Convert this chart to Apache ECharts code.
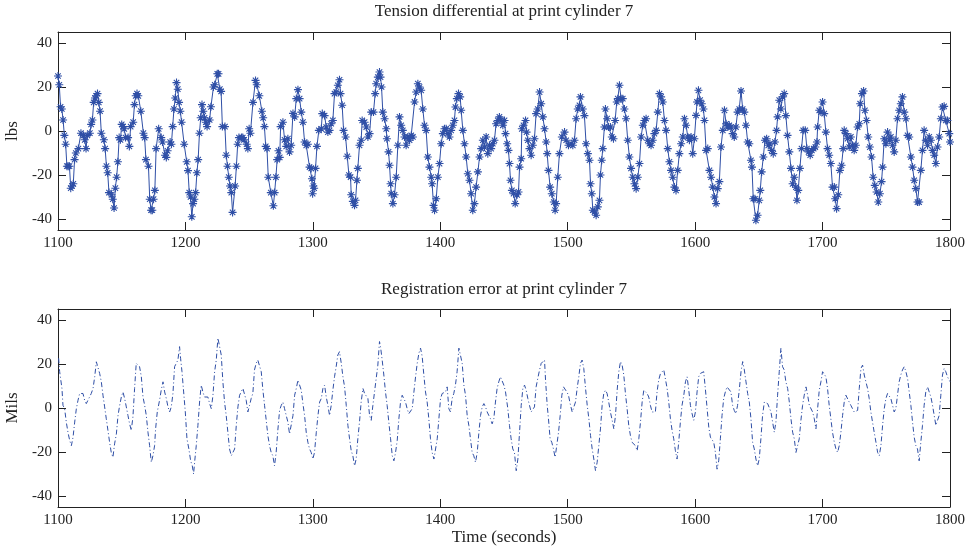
<!DOCTYPE html>
<html>
<head>
<meta charset="utf-8">
<script src="https://cdn.jsdelivr.net/npm/echarts@6/dist/echarts.min.js"></script>
<style>
html,body{margin:0;padding:0;background:#fff;}
#chart{width:972px;height:550px;}
</style>
</head>
<body>
<div id="chart"></div>
<script>
// ---- data ----
const xTicks = [1100, 1200, 1300, 1400, 1500, 1600, 1700, 1800];
const yTicks = [-40, -20, 0, 20, 40];

const tensionTime = [
1100,1101,1102,1103,1104,1105,1106,1107,1108,1109,
1110,1111,1112,1113,1114,1116,1118,1120,1121,1122,
1123,1125,1126,1127,1128,1129,1130,1131,1132,1133,
1134,1136,1137,1138,1139,1140,1142,1143,1144,1145,
1146,1147,1148,1149,1150,1151,1152,1153,1155,1156,
1157,1159,1160,1161,1162,1163,1165,1167,1168,1169,
1171,1172,1173,1174,1175,1176,1177,1179,1181,1182,
1184,1185,1186,1188,1189,1190,1191,1192,1193,1194,
1195,1196,1197,1199,1201,1202,1203,1204,1205,1206,
1207,1208,1209,1210,1211,1212,1213,1214,1215,1216,
1217,1219,1220,1222,1223,1225,1226,1227,1228,1229,
1231,1232,1233,1234,1235,1236,1237,1239,1240,1241,
1242,1244,1245,1246,1248,1249,1250,1251,1253,1255,
1256,1258,1260,1261,1262,1263,1264,1265,1267,1269,
1270,1271,1272,1273,
1274.0,1274.7,1276.5,1277.8,1279.1,1280.4,1281.7,1283.0,1284.4,1285.7,
1287.0,1288.3,1289.6,1290.9,1292.2,1293.5,1294.8,1296.1,1297.4,1298.7,
1299.3,1299.8,1300.4,1301.0,1302.1,1303.2,1304.7,1306.6,1307.4,1309.2,
1310.5,1311.8,1313.1,1314.4,1315.7,1317.0,1318.3,1319.6,1320.9,1321.7,
1323.0,1324.1,1325.7,1327.0,1328.3,1329.6,1330.1,1331.4,1332.7,1333.5,
1334.6,1335.3,1336.6,1337.9,1338.7,1340.6,1341.9,1343.2,1344.5,1345.8,
1347.6,1348.9,1349.7,1351.0,1352.3,1353.1,1353.9,1354.9,1356.3,1357.6,
1358.1,1359.4,1360.2,1361.0,1361.5,1362.8,1364.1,1365.4,1366.7,1368.0,
1369.3,1370.6,1371.9,1373.2,1374.5,1375.9,1377.2,1378.5,1379.8,1381.1,
1382.4,1383.7,1385.0,1386.3,1387.6,1388.9,1390.2,1391.5,1392.9,1393.6,
1394.7,1395.5,1396.8,1398.1,1399.4,1400.7,1402.0,1403.3,1404.6,1405.9,
1407.2,1408.5,1409.8,1411.1,1411.9,1413.0,1414.3,1415.6,1416.4,1417.7,
1419.0,1420.3,1421.6,1422.9,1424.2,1425.5,1426.8,1428.1,1429.5,1430.8,
1432.1,1433.4,1434.7,1436.0,1437.3,1438.6,1439.9,1441.2,1442.5,1443.8,
1445.1,1446.4,1447.8,1449.1,
1450.4,1451.2,1452.5,1453.5,1454.3,1455.1,1456.2,1457.5,1458.8,1460.3,
1461.4,1462.2,1463.5,1464.0,1465.3,1466.9,1467.7,1468.7,1470.0,1471.3,
1472.6,1473.9,1475.2,1476.5,1477.9,1479.2,1480.5,1481.8,1483.1,1483.9,
1484.9,1486.2,1487.5,1489.1,1490.1,1490.9,1492.2,1493.5,1495.4,1497.5,
1498.8,1500.6,1502.7,1504.0,1505.3,1506.6,1507.9,1509.2,1510.0,1511.8,
1513.1,1514.4,1515.8,1517.1,1517.9,1518.9,1519.7,1521.0,1522.3,1523.6,
1524.9,1525.7,1526.7,1527.5,1528.8,1529.6,1530.9,1532.0,1533.5,1534.6,
1535.9,1537.2,1538.5,1539.3,1540.6,1541.9,1543.2,1544.5,1545.8,1547.1,
1548.4,1549.7,1551.0,1552.4,1553.7,1555.0,1556.3,1557.6,1558.9,1560.2,
1561.5,1562.8,1564.1,1565.4,1566.7,1568.0,1569.4,1570.7,1572.0,1573.3,
1574.6,1575.9,1577.2,1578.5,1579.8,1581.1,1582.4,1583.7,1585.0,1586.3,
1587.6,1589.0,1590.3,1591.6,1592.9,1594.2,1595.5,1596.8,1598.1,1599.4,
1600.7,1601.5,1602.6,1603.9,1605.2,1606.5,1607.3,1608.6,1609.9,1611.2,
1612.5,1613.8,1615.1,1616.4,1617.7,1619.0,1620.3,1621.7,1623.0,1624.3,
1625.6,
1626.8,1628.1,1629.4,1630.7,1632.0,1633.3,1634.6,1636.0,1637.3,1638.6,
1639.9,1641.2,1642.5,1643.8,1644.6,1645.6,1646.9,1647.7,1649.0,1650.3,
1651.1,1652.2,1653.5,1654.8,1656.1,1657.4,1658.7,1660.0,1661.3,1662.6,
1663.9,1664.7,1666.0,1667.3,1668.6,1669.9,1671.2,1672.5,1673.9,1675.2,
1676.5,1677.8,1679.1,1679.9,1680.9,1682.2,1683.5,1684.8,1686.4,1687.7,
1689.0,1690.3,1691.6,1693.0,1694.3,1695.6,1696.1,1697.4,1698.7,1700.0,
1701.3,1702.6,1703.9,1705.2,1706.5,1707.8,1709.2,1709.9,1711.0,1712.3,
1713.6,1714.9,1716.2,1717.0,1718.3,1719.6,1720.9,1722.2,1723.5,1724.8,
1726.1,1727.5,1728.8,1729.5,1730.9,1732.2,1733.2,1734.5,1735.8,1737.1,
1738.4,1739.7,1741.0,1742.4,1743.7,1745.0,1746.3,1747.1,1748.4,1749.7,
1751.0,1752.3,1753.6,1754.9,1756.2,1757.5,1758.8,1760.1,1761.4,1762.7,
1764.1,1765.4,1766.7,1768.0,1769.3,1770.6,1771.9,1773.2,1774.5,1775.8,
1777.1,1778.4,1779.7,1781.0,1782.4,1783.7,1785.0,1786.3,1787.6,1788.9,
1790.2,1791.5,1792.8,1794.1,1795.4,1796.7,1798.0,1799.4,1800.0
];
const tensionLbs = [
25,21,11,10,5,-2,-6,-16,-16,-16,
-26,-25,-24,-13,-10,-8,-1,-2,-4,-8,
-2,-1,3,5,13,15,16,17,13,9,
-1,-4,-8,-16,-19,-28,-29,-31,-35,-26,
-21,-14,-3,-4,3,2,1,-3,-3,-7,
2,4,12,16,17,16,9,-1,-3,-13,
-16,-31,-36,-36,-31,-27,-8,1,-3,-5,
-11,-12,-9,-5,-6,2,10,15,22,19,
13,9,4,-6,-14,-18,-28,-30,-39,-33,
-31,-28,-19,-13,-1,6,12,9,6,4,
2,5,11,20,21,26,26,19,18,2,
2,-11,-16,-21,-25,-28,-37,-25,-16,-6,
-3,-3,-3,-4,-6,-8,1,-1,13,23,
21,16,9,6,2,-7,-8,-21,-28,-34,
-28,-21,-13,-9,
-12,2,4,-4,-7,-3.5,-9.5,-6.5,8,6.4,
14.7,18.8,14.7,8.6,4,-5,-6.5,-6,-16.4,-17,
-21.7,-28.5,-25,-26,-17,-7,0.3,1,7.9,7,
1.8,-0.5,0.3,3.3,4.8,17,17.7,20.8,23.3,17,
11.7,0.3,-2.7,-11.5,-20,-21,-29,-32,-33.8,-31.5,
-22.4,-17,-6.5,-4.2,4.8,4,1.8,-2.7,-1.2,8.6,
8.6,17,21.5,24.5,26.8,24.5,20,8.6,5.6,1,
-3.5,-9.5,-15.6,-24,-28.5,-33,-29,-21,-6.5,6.4,
2.6,0.3,-2.7,-6.5,-2.7,-4.2,-2,-2.7,13.2,17.7,
21.5,20,18.5,10,2.6,0.3,-11.8,-16.4,-21,-24,
-33.8,-36,-30.8,-21,-14.8,-5.8,-1.2,1,1,-1.2,
-2.7,0.3,2.6,4.8,10.9,14.7,17,15.5,9.4,0.3,
-5.8,-11.8,-19.4,-22.4,-28.5,-36,-33,-25.5,-18.6,-11.8,
-8,-4.2,-7.3,-2.7,-10.3,-6.5,-8,-5.8,-4.2,3.3,
4.8,6.4,4.8,2.6,
4.8,-1.2,-5.8,-8.8,-14.8,-22.4,-27,-28.5,-33,-29,
-27.7,-16.4,-12.6,1,2.6,4.8,-0.5,-4.2,-8,-11,
-6.5,-3.5,7.9,10,17.7,12.4,6.4,1,-5,-10.3,
-17.9,-25.5,-28.5,-32.3,-36,-33,-21,-10.3,-2.7,-0.5,
-4.2,-6.5,-5.8,-6.5,-4.2,5.6,10,11.7,15.5,10,
7,-5.8,-10.3,-13.3,-24,-28.5,-36,-36.8,-38.3,-34.5,
-31.5,-20,-13.3,-8,1.8,10,5.6,1.8,1.8,-2.7,
-3.5,4.8,13.2,14.7,20.8,14.7,14.7,10,5.6,-4.2,
-11.8,-17,-21,-24,-26.2,-21,-14.8,-2.7,2.6,4.8,
5.6,-4.2,-5.8,-6.5,-4.2,-1.2,0.3,8.6,17,15.5,
13.2,4.8,0.3,-8,-14,-17.9,-21,-25.5,-27,-17.9,
-10.3,-5.8,-2.7,5.6,2.6,-2.7,-4.2,-2.7,-10.3,-3.5,
7.1,13.2,18.5,14,12.4,10,4.8,-8.8,-8,-17.9,
-21,-25.5,-30,-33,-26.2,-23,-7.3,0.3,9.4,3.3,
1.8,
2.6,1.8,-1.2,-2.7,1.8,8.6,10,18.2,10,8.6,
2.6,-5,-5.8,-13.3,-16.4,-30.8,-30.8,-40.6,-38.3,-31.5,
-27,-18.6,-11.8,-4.2,-3.5,-6.5,-5.8,-8.8,-10.3,-5,
0.3,6.4,14,10,15.5,17,7,-2,-9.5,-17,
-24,-21,-25.5,-31.5,-27,-17,-8,0.3,0.3,-8,
-9.5,-11,-8.8,-8,-7.3,-5,1.8,9.4,8.6,13.2,
7.9,-0.5,-8,-11,-14.8,-25.5,-25.5,-30.8,-35.3,-29,
-17.9,-15.6,-8,0.3,-1.2,-3.5,-7.3,-2.7,-6.5,-8.8,
-6.5,1.8,3.3,12.4,17,18.2,9.4,4.8,-2.7,-7.3,
-11.8,-21,-24.7,-27.7,-32.3,-28.5,-23,-16.4,-3.5,-5.8,
-0.5,-4.2,-2.7,-6.5,-9.5,-4.2,5.6,9.4,12.4,15.5,
8.6,5.6,-2,-2.7,-11.8,-16.4,-22.4,-26.2,-32.3,-32.3,
-17.9,-8.8,0.3,-4.2,-6.5,-2.7,-4.2,-8.8,-11,-14.8,
-7.3,-2.7,5.6,10.9,11.2,4.8,4.8,-1.2,-5
];

const registrationTime = [
1100.5,1101.3,1103.1,1103.9,1105.2,1106.5,1107.8,1109.2,1110.5,1111.8,
1113.1,1114.4,1115.7,1117.0,1118.3,1119.6,1120.9,1122.2,1123.5,1124.8,
1126.1,1127.5,1128.8,1130.1,1131.4,1132.7,1134.0,1135.3,1136.6,1137.9,
1139.2,1140.5,1141.8,1143.1,1144.4,1145.8,1147.1,1148.4,1149.7,1151.0,
1152.3,1153.6,1154.9,1156.2,1157.5,1158.8,1160.1,1161.4,1162.7,1164.0,
1165.4,1166.7,1168.0,1169.3,1170.6,1171.9,1173.2,1174.5,1175.8,1176.6,
1177.9,1179.7,1181.0,1182.4,1183.7,1185.0,1186.3,1187.6,1188.9,1190.2,
1191.5,1192.8,1194.1,1195.4,1196.2,1197.3,1198.6,1199.9,1201.2,1202.7,
1204.1,1205.4,1206.4,1207.2,1208.5,1209.8,1211.1,1212.4,1213.7,1215.0,
1216.3,1217.6,1219.0,1220.3,1221.6,1222.9,1224.2,1225.5,1226.8,1228.1,
1229.4,1230.7,1232.0,1233.3,1234.6,1236.0,1237.3,1238.6,1239.9,1241.2,
1242.5,1243.8,1245.1,1246.4,1247.7,1249.0,1250.3,1251.6,1252.9,1254.2,
1255.5,1256.8,1258.2,1259.5,1260.8,1262.1,1263.4,1264.7,1266.0,1267.3,
1268.6,1269.9,1271.2,1272.5,1273.9,
1275.2,1276.5,1277.8,1279.1,1280.4,1281.7,1283.0,1284.4,1285.7,1287.0,
1288.3,1289.6,1290.9,1292.2,1293.5,1294.8,1296.1,1297.4,1298.7,1300.0,
1301.3,1302.7,1304.0,1305.3,1306.6,1307.9,1309.2,1310.5,1311.8,1313.1,
1314.4,1315.7,1317.0,1318.3,1319.6,1320.9,1322.3,1323.6,1324.9,1326.2,
1327.5,1328.8,1330.1,1331.4,1332.7,1334.0,1335.3,1336.6,1337.9,1339.3,
1340.6,1341.9,1343.2,1344.5,1345.8,1347.1,1348.4,1349.7,1351.0,1352.3,
1353.1,1354.4,1355.7,1357.0,1358.3,1359.6,1361.0,1362.3,1363.6,1364.9,
1366.2,1367.5,1368.8,1370.1,1371.4,1372.7,1374.0,1375.3,1376.6,1378.0,
1379.3,1380.6,1381.9,1383.2,1384.5,1385.8,1387.1,1388.4,1389.7,1391.0,
1392.3,1393.6,1395.0,1396.3,1397.6,1398.9,1400.2,1401.5,1402.8,1404.1,
1405.4,1406.7,1408.0,1409.3,1410.6,1411.9,1413.2,1414.6,1415.9,1417.2,
1418.5,1419.8,1421.1,1422.4,1423.7,1425.0,1426.3,1427.6,1429.0,1430.3,
1431.6,1432.9,1434.2,1435.5,1436.8,1438.1,1439.4,1440.7,1442.0,1443.3,
1444.6,1445.9,1447.2,1448.5,1449.9,
1451.2,1453.0,1454.3,1455.6,1456.9,1458.2,1459.6,1460.9,1462.2,1463.5,
1464.8,1466.1,1467.4,1468.7,1470.0,1471.3,1472.6,1473.9,1475.2,1476.5,
1477.9,1479.2,1480.5,1481.8,1482.6,1483.9,1484.9,1486.2,1487.5,1488.8,
1490.1,1491.4,1492.8,1494.1,1495.4,1496.7,1498.0,1499.3,1500.6,1501.9,
1503.5,1504.8,1506.1,1507.4,1508.7,1510.0,1511.3,1512.6,1514.0,1515.3,
1516.6,1517.9,1519.2,1520.5,1521.8,1523.1,1524.4,1525.7,1527.0,1528.3,
1529.6,1530.9,1532.2,1533.5,1534.9,1536.2,1537.5,1538.8,1540.1,1541.4,
1542.7,1544.0,1545.3,1546.6,1547.9,1549.2,1550.5,1551.8,1553.1,1554.5,
1555.8,1557.1,1558.4,1559.7,1561.0,1562.3,1563.6,1564.9,1566.2,1567.5,
1568.8,1570.1,1571.4,1572.8,1574.1,1575.4,1576.7,1578.0,1579.3,1580.6,
1581.9,1583.2,1584.5,1585.8,1587.1,1588.4,1589.7,1591.1,1592.4,1593.7,
1595.0,1596.3,1597.6,1598.9,1600.2,1601.5,1602.8,1604.1,1605.4,1606.7,
1608.0,1609.4,1610.7,1612.0,1613.3,1614.6,1615.9,1617.2,1618.5,1619.8,
1621.1,1622.4,1623.7,1625.0,1626.3,
1628.1,1629.4,1630.7,1632.0,1633.3,1634.6,1636.0,1637.3,1638.6,1639.9,
1641.2,1642.5,1643.8,1645.1,1646.4,1647.7,1649.0,1650.3,1651.6,1652.9,
1654.3,1655.6,1656.9,1658.2,1659.5,1660.8,1662.1,1663.4,1664.7,1666.0,
1667.3,1668.6,1669.9,1671.2,1672.6,1673.9,1675.2,1676.5,1677.8,1679.1,
1680.4,1681.7,1683.0,1684.3,1685.6,1687.0,1688.3,1689.6,1690.9,1692.2,
1693.5,1694.8,1696.1,1697.4,1698.7,1700.0,1701.3,1702.6,1703.9,1705.2,
1706.5,1707.8,1709.2,1710.5,1711.8,1713.1,1714.4,1715.7,1717.0,1718.3,
1719.6,1720.9,1722.2,1723.5,1724.8,1726.1,1727.5,1728.8,1730.1,1731.4,
1732.7,1734.0,1735.3,1736.6,1737.9,1739.2,1740.5,1741.9,1743.2,1744.5,
1745.8,1747.1,1748.4,1749.7,1751.0,1752.3,1753.6,1754.9,1756.2,1757.5,
1758.8,1760.1,1761.4,1762.7,1764.1,1765.4,1766.7,1768.0,1769.3,1770.6,
1771.9,1773.2,1774.5,1775.8,1777.1,1778.4,1779.7,1781.0,1782.4,1783.7,
1785.0,1786.3,1787.6,1788.9,1790.2,1791.5,1792.8,1794.1,1795.4,1796.7,
1798.0,1799.4,1800.0
];
const registrationMils = [
22.6,16.5,8.9,1.2,-0.3,-6.4,-11,-14.8,-17.1,-13.3,
-6.4,-0.3,3.5,6.6,5.8,6.6,3.5,2,3.5,4.3,
6.6,8.9,14.2,21,20.3,15.7,11.9,5.8,0.5,-4.9,
-10.2,-15.6,-20.2,-22.4,-16.3,-11.8,-3.4,1.2,5,7.3,
4.3,0.5,-3.4,-7.2,-10.2,-4.1,8.9,20.3,19.5,18.8,
14.2,5,1.2,-3.4,-11,-17.1,-24.7,-21.7,-17.1,-9.5,
-1.8,3.5,8.1,11.9,7.3,4.3,0.5,-1.8,0.5,6.6,
18.8,20.3,21.8,27.9,22.6,16.5,7.3,-1.8,-14,-18.6,
-24,-26.3,-30,-24.7,-17.1,-7.9,2.7,10.4,7.3,5,
4.3,5,2,-0.3,5.8,16.5,21.8,31.8,32.5,24.1,
11.9,2.7,-3.4,-11,-18.6,-21.7,-22.4,-18.6,-7.9,0.5,
5.8,5,8.9,9.6,3.5,-1.8,1.2,4.3,6.6,17.3,
20.3,21.8,21.1,16.5,8.1,1.2,-5.6,-12.5,-17.1,-20.2,
-21.7,-26.3,-20.2,-10.2,-1,
1.2,2.7,-0.3,-3.4,-6.4,-11.8,-11,-3.4,5.8,8.9,
12.7,11.9,8.1,2,-3.4,-11,-15.6,-18.6,-20.2,-23.2,
-20.2,-11,-3.4,2.7,4.3,8.9,10.4,5,1.2,-3.4,
1.2,8.1,14.2,18.8,24.1,25.6,20.3,14.2,9.6,1.2,
-7.9,-14,-19.4,-21.7,-26.3,-23.2,-14,-6.4,2.7,8.9,
6.6,7.3,4.3,-3.4,-5.6,1.2,7.3,13.4,19.5,30.2,
27.9,21.8,15,7.3,1.2,-6.4,-14,-21.7,-24,-20.2,
-14.8,-4.9,2.7,5.8,5.8,2.7,-0.3,-2.6,-3.4,-0.3,
7.3,14.2,20.3,24.9,27.2,23.4,15,7.3,2.7,-4.9,
-14,-20.2,-23.2,-22.4,-14,-4.9,4.3,6.6,6.6,7.3,
9.6,-0.3,-1.8,4.3,6.6,10.4,16.5,27.2,27.9,20.3,
10.4,5.8,-3.4,-7.9,-14,-20.2,-21.7,-24.7,-20.2,-11,
-3.4,0.5,2,0.5,-1.8,-3.4,-4.9,-7.2,-4.9,2.7,
8.9,11.9,14.2,14.2,10.4,
7.3,-0.3,-7.9,-14,-18.6,-20.2,-28.5,-23.2,-11,1.2,
8.9,10.4,8.1,4.3,1.2,-1.8,-2.6,0.5,9.6,13.4,
17.3,20.3,21.1,21.8,12.7,1.2,-4.9,-14,-15.6,-18.6,
-22.4,-17.1,-11,-3.4,5.8,9.6,10.4,7.3,5.8,2,
-1.8,-1.1,2.7,8.9,14.2,20.3,21.8,18,8.9,1.2,
-4.9,-12.5,-18.6,-23.2,-28.5,-24.7,-17.1,-9.5,1.2,6.6,
8.1,6.6,2.7,-1.8,-5.6,-9.5,-3.4,8.1,16.5,21.1,
19.5,15,6.6,-0.3,-7.9,-12.5,-15.6,-16.3,-17.1,-19.4,
-14,-6.4,2.7,8.1,8.9,6.6,5,1.2,-1.8,-2.6,
-1.8,7.3,12.7,15.7,15.7,17.3,17.3,8.9,2.7,-4.9,
-10.2,-14,-19.4,-23.2,-15.6,-6.4,1.2,5.8,11.9,14.2,
8.1,1.2,-2.6,-5.6,-1.8,7.3,14.2,15.7,15.7,16.5,
8.9,-0.3,-8.7,-13.3,-14,-15.6,-20.2,-27.8,-24,-14,
-3.4,4.3,7.3,9.6,10.4,
7.3,1.2,-1.1,-2.6,1.2,8.1,16.5,21.1,17.3,11.9,
6.6,2.7,-4.9,-15.6,-18.6,-23.2,-26.3,-23.2,-14,-3.4,
2.7,3.5,2,1.2,-1.8,-6.4,-11,-6.4,5.8,16.5,
27.2,18.8,17.3,11.9,8.9,2.7,-4.9,-11,-14,-20.2,
-19.4,-14,-5.6,1.2,5.8,9.6,5.8,1.2,1.2,-1.8,
-4.9,-9.5,-0.3,8.1,11.9,16.5,15.7,14.2,8.9,1.2,
-4.9,-11,-15.6,-18.6,-20.2,-17.1,-11,-3.4,2.7,5.8,
5.8,2.7,1.2,-0.3,-1.8,-1.8,-1.1,8.9,18,19.5,
15,14.2,8.9,4.3,-1.8,-6.4,-11,-15.6,-20.2,-21.7,
-17.1,-7.9,-0.3,4.3,6.6,5.8,4.3,1.2,-1.8,-0.3,
5.8,11.9,15,17.3,18.8,16.5,13.4,7.3,1.2,-6.4,
-13.3,-17.1,-18.6,-24,-15.6,-7.9,1.2,7.3,9.6,7.3,
5,1.2,-3.4,-7.9,-8.7,-3.4,5.8,15,18,16.5,
14.2,15,12
];

// ---- chart ----
const BLUE = '#2f4fa6';
const INK = '#222';
const FONT = '"Liberation Serif", "DejaVu Serif", serif';

function pairs(xs, ys) {
  const n = Math.min(xs.length, ys.length);
  const out = [];
  for (let i = 0; i < n; i++) out.push([xs[i], ys[i]]);
  return out;
}

const grids = [
  {left: 58, top: 32, width: 892, height: 198, containLabel: false, outerBoundsMode: 'none'},
  {left: 58, top: 309, width: 892, height: 198, containLabel: false, outerBoundsMode: 'none'}
];

function xAxisFor(gi, showLabels, pos) {
  return {
    type: 'value', gridIndex: gi, position: pos,
    min: xTicks[0], max: xTicks[xTicks.length - 1], interval: 100,
    axisLine: {show: true, onZero: false, lineStyle: {color: INK, width: 1}},
    axisTick: {show: true, inside: true, length: 8, lineStyle: {color: INK}},
    axisLabel: {show: showLabels, color: INK, fontFamily: FONT, fontSize: 15, margin: 6,
      formatter: function (v) { return String(v); }},
    splitLine: {show: false}
  };
}
function yAxisFor(gi, showLabels, pos, name) {
  return {
    type: 'value', gridIndex: gi, position: pos,
    min: -45, max: 45,
    name: name || '', nameLocation: 'middle', nameGap: 33,
    nameTextStyle: {color: INK, fontFamily: FONT, fontSize: 17},
    axisLine: {show: true, onZero: false, lineStyle: {color: INK, width: 1}},
    axisTick: {show: true, inside: true, length: 8, lineStyle: {color: INK}, customValues: yTicks},
    axisLabel: {show: showLabels, color: INK, fontFamily: FONT, fontSize: 15, margin: 6, customValues: yTicks,
      formatter: function (v) { return String(v); }},
    splitLine: {show: false}
  };
}

const xAxes = [xAxisFor(0, true, 'bottom'), xAxisFor(1, true, 'bottom'),
               xAxisFor(0, false, 'top'), xAxisFor(1, false, 'top')];
xAxes[1].name = 'Time (seconds)';
xAxes[1].nameLocation = 'middle';
xAxes[1].nameGap = 21;
xAxes[1].nameTextStyle = {color: INK, fontFamily: FONT, fontSize: 17};

const yAxes = [yAxisFor(0, true, 'left', 'lbs'), yAxisFor(1, true, 'left', 'Mils'),
               yAxisFor(0, false, 'right'), yAxisFor(1, false, 'right')];

const chart = echarts.init(document.getElementById('chart'), null, {renderer: 'canvas'});
chart.setOption({
  backgroundColor: '#ffffff',
  animation: false,
  grid: grids,
  xAxis: xAxes,
  yAxis: yAxes,
  graphic: [
    {type: 'text', x: 504, y: 12, style: {text: 'Tension differential at print cylinder 7',
      textAlign: 'center', textVerticalAlign: 'middle', fill: INK, font: '17px ' + FONT}},
    {type: 'text', x: 504, y: 290, style: {text: 'Registration error at print cylinder 7',
      textAlign: 'center', textVerticalAlign: 'middle', fill: INK, font: '17px ' + FONT}}
  ],
  series: [
    {
      type: 'line', xAxisIndex: 0, yAxisIndex: 0,
      data: pairs(tensionTime, tensionLbs),
      showSymbol: true, showAllSymbol: true,
      symbol: 'path://M5 0L5 10M0 5L10 5M1.6 1.6L8.4 8.4M8.4 1.6L1.6 8.4',
      symbolSize: 8,
      itemStyle: {color: 'rgba(0,0,0,0)', borderColor: BLUE, borderWidth: 1.1},
      lineStyle: {color: BLUE, width: 1},
      emphasis: {disabled: true}
    },
    {
      type: 'line', xAxisIndex: 1, yAxisIndex: 1,
      data: pairs(registrationTime, registrationMils),
      showSymbol: false,
      lineStyle: {color: BLUE, width: 1, type: [5, 2.5, 1, 2.5]},
      emphasis: {disabled: true}
    }
  ]
});
</script>
</body>
</html>
